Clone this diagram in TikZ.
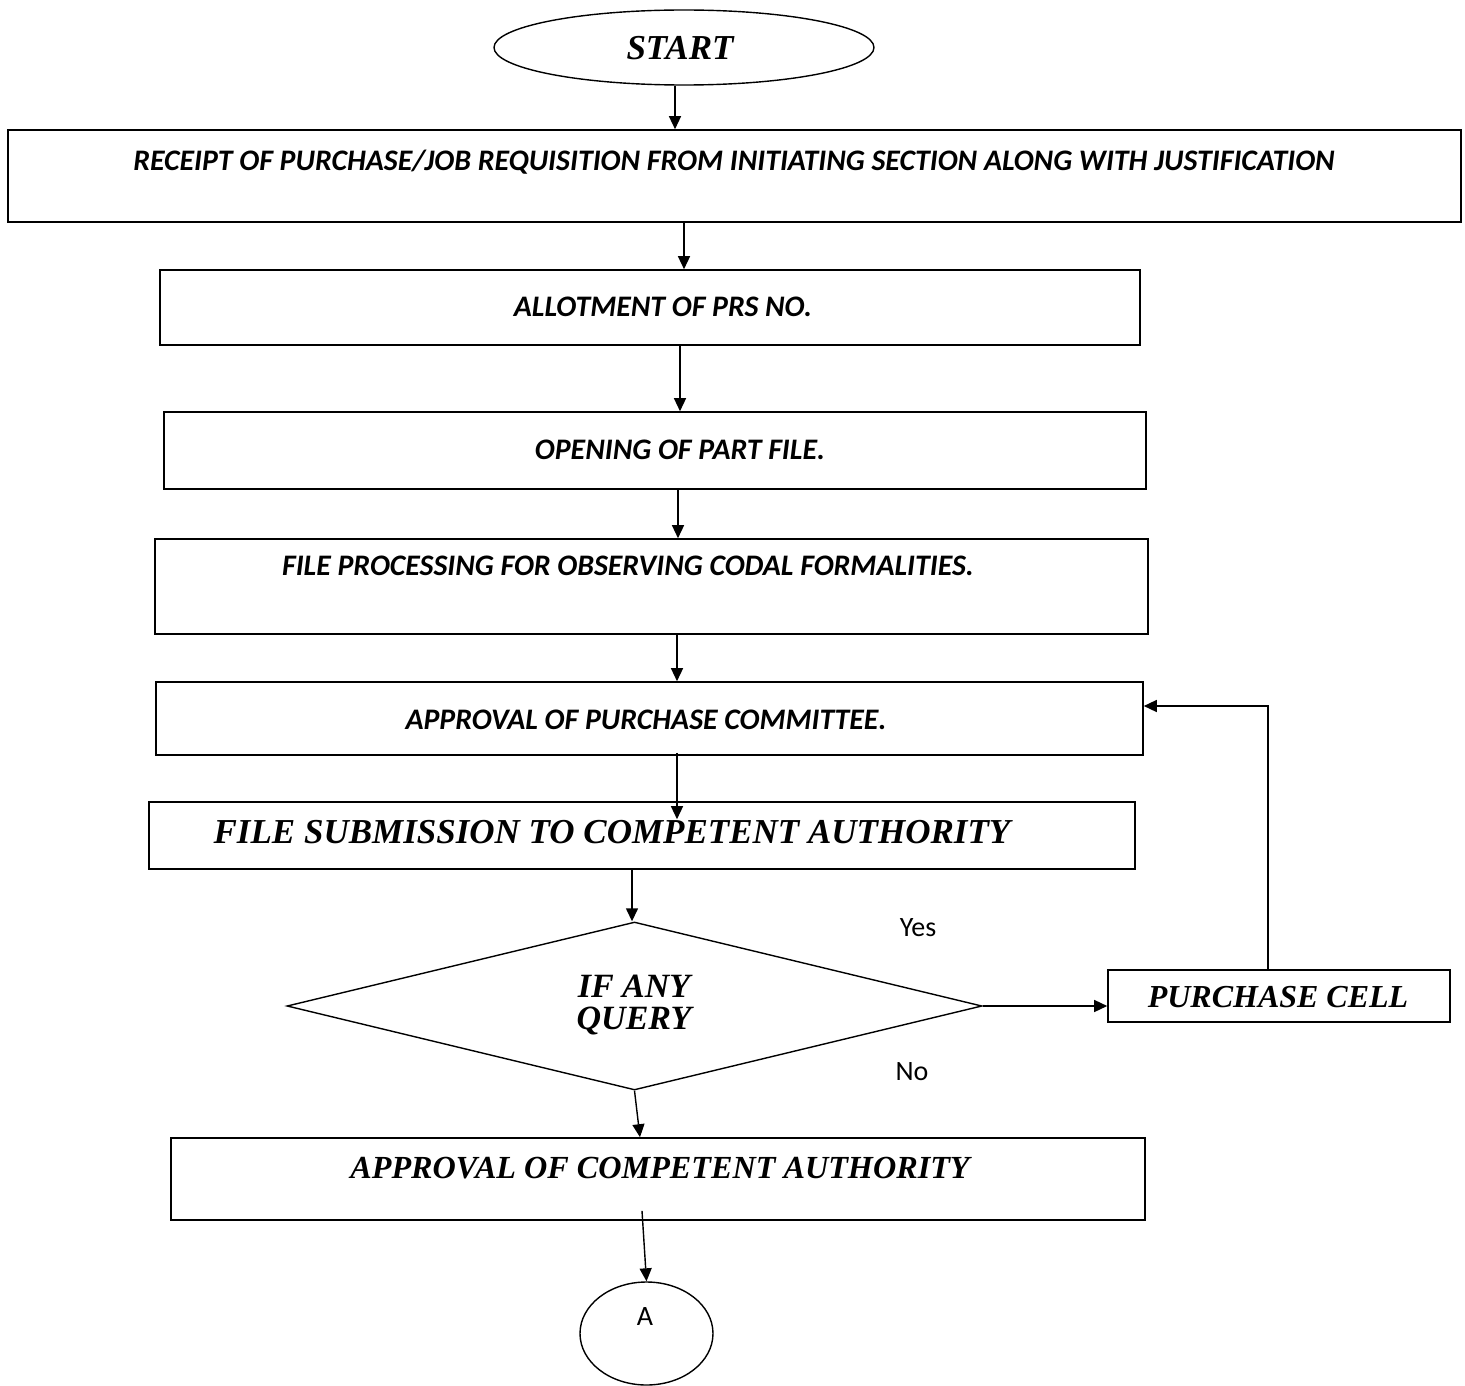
\documentclass[tikz,border=0pt]{standalone}
\usepackage{fontspec}
\setmainfont{Carlito}
\newfontfamily\tnr{Liberation Serif}
\usetikzlibrary{shapes.geometric,arrows.meta}
\begin{document}
\begin{tikzpicture}[x=1pt,y=-1pt,
  box/.style={draw,line width=1.6pt,inner sep=0pt,rectangle},
  arr/.style={line width=1.4pt,-{Triangle[length=13pt,width=12pt]}},
  cal/.style={inner sep=0pt,font=\fontsize{29.8}{36}\selectfont\bfseries\itshape},
  tms/.style={inner sep=0pt,font=\fontsize{35}{35}\selectfont\tnr\bfseries\itshape},
  plain/.style={inner sep=0pt,font=\fontsize{28}{34}\selectfont}]
\useasboundingbox (0,0) rectangle (1465,1386);
% nodes
\node[draw,line width=1.4pt,ellipse,minimum width=380pt,minimum height=75pt,inner sep=0pt] (start) at (684,47.5) {};
\node[tms] (starttext) at (680,48) {START};
\node[box,minimum width=1453pt,minimum height=92pt] (b1) at (734.5,176) {};
\node[cal] (t1) at (734,162) {RECEIPT OF PURCHASE/JOB REQUISITION FROM INITIATING SECTION ALONG WITH JUSTIFICATION};
\node[box,minimum width=980pt,minimum height=75pt] (b2) at (650,307.5) {};
\node[cal] (t2) at (663,307) {ALLOTMENT OF PRS NO.};
\node[box,minimum width=982pt,minimum height=77pt] (b3) at (655,450.5) {};
\node[cal] (t3) at (680,450) {OPENING OF PART FILE.};
\node[box,minimum width=993pt,minimum height=95pt] (b4) at (651.5,586.5) {};
\node[cal] (t4) at (628,566) {FILE PROCESSING FOR OBSERVING CODAL FORMALITIES.};
\node[box,minimum width=987pt,minimum height=73pt] (b5) at (649.5,718.5) {};
\node[cal] (t5) at (646,720) {APPROVAL OF PURCHASE COMMITTEE.};
\node[box,minimum width=986pt,minimum height=67pt] (b6) at (642,835.5) {};
\node[tms] (t6) at (612,832) {FILE SUBMISSION TO COMPETENT AUTHORITY};
\node[draw,line width=1.4pt,diamond,minimum width=695pt,minimum height=168pt,inner sep=0pt] (d) at (634.5,1006) {};
\node[tms,align=center,font=\fontsize{34}{32}\selectfont\tnr\bfseries\itshape] (dt) at (634,1005) {IF ANY\\QUERY};
\node[box,minimum width=342pt,minimum height=52pt] (pc) at (1279,996) {};
\node[tms,font=\fontsize{32}{32}\selectfont\tnr\bfseries\itshape] (pct) at (1278,997) {PURCHASE CELL};
\node[box,minimum width=974pt,minimum height=82pt] (b7) at (658,1179) {};
\node[tms,font=\fontsize{32.2}{32}\selectfont\tnr\bfseries\itshape] (t7) at (660,1168) {APPROVAL OF COMPETENT AUTHORITY};
\node[draw,line width=1.4pt,ellipse,minimum width=133pt,minimum height=103pt,inner sep=0pt] (a) at (646.5,1333.5) {};
\node[plain] (at) at (645,1317) {A};
\node[plain] (yes) at (918,928) {Yes};
\node[plain] (no) at (912,1072) {No};
% connectors
\draw[arr] ([xshift=-9pt]start.south) -- ([xshift=-9pt]start.south |- b1.north);
\draw[arr] (b1.south -| 684,0) -- (b2.north -| 684,0);
\draw[arr] (b2.south -| 680,0) -- (b3.north -| 680,0);
\draw[arr] (b3.south -| 678,0) -- (b4.north -| 678,0);
\draw[arr] (b4.south -| 677,0) -- (b5.north -| 677,0);
\draw[arr] ([yshift=3pt]b5.south -| 677,0) -- ([yshift=-18pt]b6.north -| 677,0);
\draw[arr] (b6.south -| 632,0) -- (d.north -| 632,0);
\draw[arr] (d.south) -- (b7.north -| 640,0);
\draw[arr] ([yshift=10pt]b7.south -| 642,0) -- (a.north);
\draw[arr] (d.east) -- (pc.west |- d.east);
\draw[arr] (pc.north -| 1268,0) -- (1268,706) -- (b5.east |- 0,706);
\end{tikzpicture}
\end{document}
